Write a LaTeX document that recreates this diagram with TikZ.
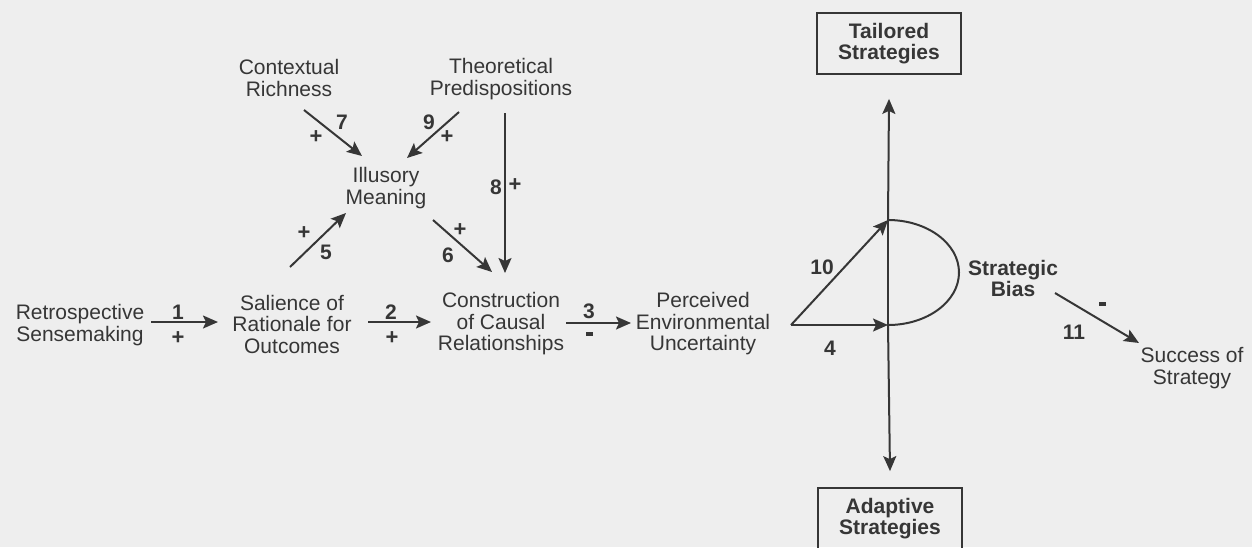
\documentclass[tikz,border=0pt]{standalone}
\usepackage{fontspec}
\setmainfont{Liberation Sans}
\usetikzlibrary{arrows.meta,calc}
\definecolor{ink}{HTML}{363636}
\definecolor{paper}{HTML}{EEEEEE}
\begin{document}
\begin{tikzpicture}[x=1pt,y=-1pt,
  lbl/.style={inner sep=0pt, align=center, font=\fontsize{21}{21.5}\selectfont, text=ink},
  blbl/.style={lbl, font=\fontsize{21}{21}\selectfont\bfseries},
  box/.style={draw=ink, line width=1.8pt, minimum width=144pt, minimum height=61pt, blbl},
  arr/.style={draw=ink, line width=2pt, -{Stealth[length=15pt,width=13pt,inset=3pt]}},
  ln/.style={draw=ink, line width=2pt},
  num/.style={inner sep=0pt, font=\fontsize{21}{21}\selectfont\bfseries, text=ink},
  sgn/.style={inner sep=0pt, font=\fontsize{22}{22}\selectfont\bfseries, text=ink},
  dsh/.style={fill=ink, minimum width=7pt, minimum height=3.5pt, inner sep=0pt},
]
\fill[paper] (0,0) rectangle (1252,547);
\useasboundingbox (0,0) rectangle (1252,547);
\clip (0,0) rectangle (1252,547);

% nodes
\node[lbl] (retro) at (80,325) {Retrospective\\Sensemaking};
\node[lbl] (sal) at (292,324) {Salience of\\Rationale for\\Outcomes};
\node[lbl] (con) at (501,324) {Construction\\of Causal\\Relationships};
\node[lbl] (pe) at (703,324) {Perceived\\Environmental\\Uncertainty};
\node[lbl] (ctx) at (289,78) {Contextual\\Richness};
\node[lbl] (theo) at (501,79) {Theoretical\\Predispositions};
\node[lbl] (ill) at (386,188) {Illusory\\Meaning};
\node[blbl] (bias) at (1013,278) {Strategic\\Bias};
\node[lbl] (succ) at (1192,368) {Success of\\Strategy};
\node[box] (tail) at (889,43.5) {Tailored\\Strategies};
\node[box] (adap) at (890,518.5) {Adaptive\\Strategies};

\coordinate (o) at (791,325);
\coordinate (jt) at (888,220);
\coordinate (jb) at (888,325);

% main chain
\draw[arr] ($(retro)+(71,-3)$) -- ($(sal)+(-74,-2)$);
\draw[arr] ($(sal)+(76,-2)$) -- ($(con)+(-70,-2)$);
\draw[arr] ($(con)+(65,-1)$) -- ($(pe)+(-72,-1)$);

% illusory meaning arrows
\draw[arr] ($(sal)+(-2,-57)$) -- ($(ill)+(-40,25)$);
\draw[arr] ($(ill)+(47,32)$) -- ($(con)+(-9,-52)$);
\draw[arr] ($(ctx)+(15,32)$) -- ($(ill)+(-24,-32)$);
\draw[arr] ($(theo)+(-42,33)$) -- ($(ill)+(21,-30)$);
\draw[arr] ($(theo)+(4,34)$) -- ($(con)+(4,-51)$);

% strategies
\draw[arr] (o) -- (jb);
\draw[arr] (o) -- (jt);
\draw[ln] (jt) -- (jb);
\draw[arr] (jt) -- ($(tail.south)+(0,24)$);
\draw[arr] (jb) -- ($(adap.north)+(0,-16)$);
\draw[ln] (jt) arc[start angle=-90, end angle=90, x radius=71, y radius=52.5];
\draw[arr] ($(bias)+(42,15)$) -- ($(succ)+(-53,-25)$);

% labels
\node[num] (n1) at (178,312) {1};
\node[sgn] (s1) at (178,338) {+};
\node[num] (n2) at (391,312) {2};
\node[sgn] (s2) at (392,338) {+};
\node[num] (n3) at (589,311) {3};
\node[dsh] (s3) at (589,334) {};
\node[num] (n4) at (830,348) {4};
\node[num] (n5) at (326,252) {5};
\node[sgn] (s5) at (304,233) {+};
\node[num] (n6) at (448,255) {6};
\node[sgn] (s6) at (460,230) {+};
\node[num] (n7) at (342,122) {7};
\node[sgn] (s7) at (316,137) {+};
\node[num] (n8) at (496,187) {8};
\node[sgn] (s8) at (515,185) {+};
\node[num] (n9) at (429,122) {9};
\node[sgn] (s9) at (447,137) {+};
\node[num] (n10) at (822,267) {10};
\node[num] (n11) at (1074,332) {11};
\node[dsh] (s11) at (1102,304) {};
\end{tikzpicture}
\end{document}
